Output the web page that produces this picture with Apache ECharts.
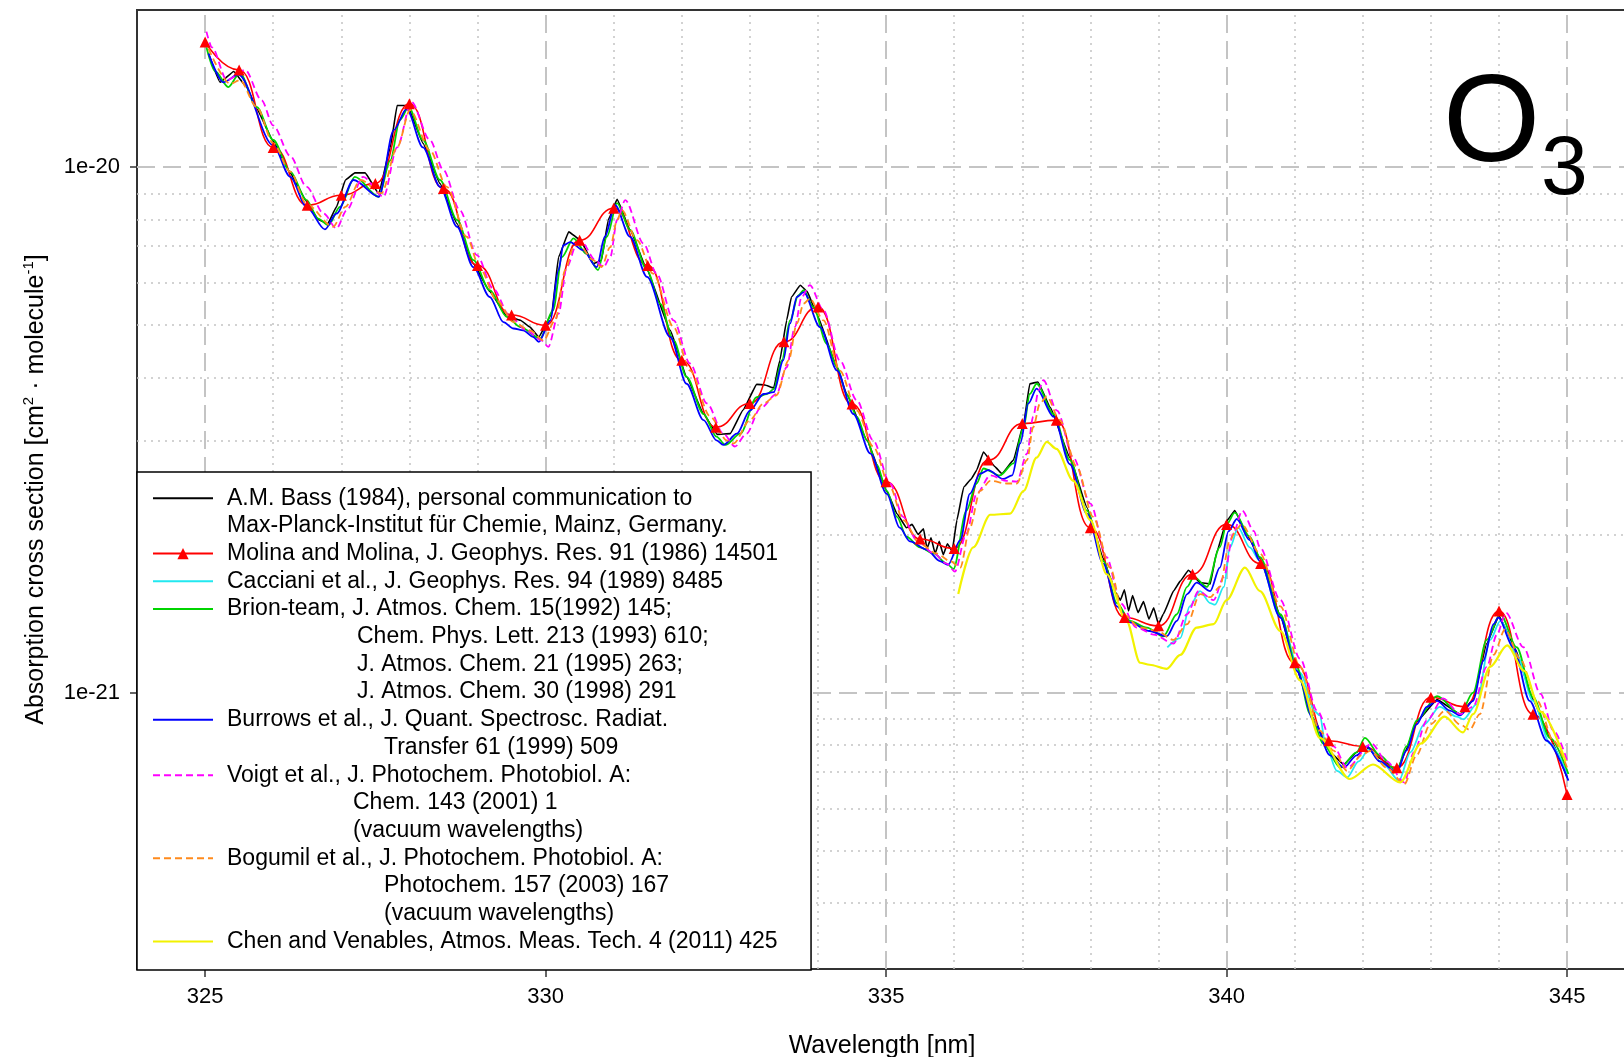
<!DOCTYPE html>
<html>
<head>
<meta charset="utf-8">
<title>O3 absorption cross section, 325-345 nm</title>
<script src="https://cdn.jsdelivr.net/npm/echarts@6/dist/echarts.min.js"></script>
<style>
  html, body { margin: 0; padding: 0; background: #fff; }
  #chart { width: 1624px; height: 1057px; }
</style>
</head>
<body>
<div id="chart"></div>
<script>
// [wavelength nm, cross section in 1e-21 cm2/molecule]
const bass = [[325.05,16.45],[325.22,14.5],[325.42,15.2],[325.61,14.2],[325.76,12.9],[326.0,11.2],[326.25,9.75],[326.49,8.6],[326.66,7.95],[326.8,7.8],[326.93,8.4],[327.06,9.45],[327.2,9.75],[327.35,9.75],[327.55,8.9],[327.72,10.9],[327.82,13.1],[327.97,13.1],[328.2,11.1],[328.45,9.3],[328.7,7.8],[328.94,6.55],[329.18,5.8],[329.43,5.2],[329.63,5.11],[329.77,4.96],[329.9,4.75],[330.09,5.26],[330.19,6.74],[330.34,7.53],[330.51,7.26],[330.7,6.55],[330.82,6.65],[330.92,7.93],[331.05,8.68],[331.24,7.6],[331.49,6.37],[331.83,4.89],[332.07,3.99],[332.32,3.39],[332.52,3.1],[332.71,3.11],[332.9,3.45],[333.1,3.86],[333.22,3.85],[333.35,3.8],[333.44,4.29],[333.54,5.11],[333.61,5.66],[333.74,5.96],[333.84,5.8],[333.98,5.26],[334.28,4.16],[334.42,3.7],[334.72,3.02],[335.01,2.42],[335.16,2.19],[335.3,2.06],[335.38,2.09],[335.47,2.0],[335.55,2.05],[335.6,1.88],[335.66,1.97],[335.72,1.84],[335.78,1.94],[335.84,1.83],[335.9,1.92],[335.97,1.86],[336.04,2.13],[336.14,2.46],[336.25,2.55],[336.33,2.65],[336.43,2.87],[336.6,2.69],[336.7,2.61],[336.87,2.77],[337.02,3.25],[337.11,3.87],[337.23,3.9],[337.41,3.49],[337.7,2.8],[337.95,2.25],[338.19,1.8],[338.29,1.66],[338.37,1.55],[338.44,1.5],[338.5,1.57],[338.56,1.43],[338.62,1.53],[338.7,1.42],[338.78,1.49],[338.86,1.38],[338.93,1.45],[339.0,1.35],[339.07,1.41],[339.22,1.56],[339.32,1.63],[339.44,1.71],[339.61,1.62],[339.76,1.61],[339.85,1.84],[340.0,2.12],[340.12,2.22],[340.3,2.0],[340.49,1.8],[340.79,1.4],[341.03,1.11],[341.28,0.89],[341.52,0.77],[341.72,0.73],[341.91,0.77],[342.04,0.79],[342.25,0.75],[342.5,0.71],[342.64,0.78],[342.79,0.88],[343.09,0.97],[343.43,0.91],[343.62,0.97],[343.82,1.24],[344.0,1.4],[344.24,1.21],[344.5,0.97],[344.75,0.82],[345.0,0.69]];

const molina = [[325.0,17.3],[325.5,15.3],[326.0,10.9],[326.5,8.46],[327.0,8.84],[327.5,9.31],[328.0,13.2],[328.5,9.1],[329.0,6.5],[329.5,5.23],[330.0,5.0],[330.5,7.26],[331.0,8.35],[331.5,6.5],[332.0,4.29],[332.5,3.2],[333.0,3.55],[333.5,4.65],[334.0,5.42],[334.5,3.54],[335.0,2.52],[335.5,1.96],[336.0,1.88],[336.5,2.77],[337.0,3.25],[337.5,3.3],[338.0,2.06],[338.5,1.39],[339.0,1.34],[339.5,1.68],[340.0,2.09],[340.5,1.76],[341.0,1.14],[341.5,0.81],[342.0,0.79],[342.5,0.72],[343.0,0.98],[343.5,0.94],[344.0,1.43],[344.5,0.91],[345.0,0.64]];

const cacciani = [[339.13,1.22],[339.32,1.27],[339.46,1.46],[339.61,1.56],[339.76,1.48],[339.83,1.47],[339.96,1.59],[340.05,1.89],[340.17,2.06],[340.34,1.89],[340.49,1.78],[340.79,1.39],[341.08,1.09],[341.3,0.92],[341.37,0.905],[341.45,0.8],[341.62,0.71],[341.77,0.69],[341.94,0.74],[342.09,0.78],[342.31,0.73],[342.53,0.68],[342.7,0.77],[342.9,0.87],[343.13,0.94],[343.38,0.9],[343.48,0.89],[343.67,0.95],[343.87,1.26],[344.02,1.37],[344.26,1.18],[344.5,0.965],[344.75,0.8],[345.0,0.7]];

const brion = [[325.02,16.9],[325.15,15.2],[325.34,14.2],[325.51,15.1],[325.76,13.0],[326.0,11.26],[326.25,9.8],[326.49,8.65],[326.66,7.98],[326.81,7.75],[326.98,8.4],[327.2,9.58],[327.55,8.78],[327.72,10.3],[327.86,12.3],[327.99,13.0],[328.2,11.26],[328.45,9.45],[328.7,7.93],[328.94,6.65],[329.18,5.83],[329.43,5.19],[329.63,4.96],[329.92,4.72],[330.11,5.34],[330.24,6.74],[330.41,7.32],[330.6,6.84],[330.77,6.37],[330.9,7.37],[331.05,8.54],[331.24,7.59],[331.49,6.37],[331.68,5.5],[331.88,4.68],[332.07,3.99],[332.32,3.39],[332.51,3.07],[332.64,2.96],[332.86,3.11],[333.1,3.65],[333.25,3.7],[333.35,3.78],[333.47,4.29],[333.59,5.11],[333.71,5.7],[333.79,5.83],[333.93,5.42],[334.13,4.61],[334.28,4.16],[334.42,3.7],[334.57,3.35],[334.72,3.02],[334.86,2.72],[335.01,2.42],[335.16,2.16],[335.3,1.98],[335.5,1.89],[335.7,1.84],[335.89,1.76],[335.99,1.72],[336.18,2.22],[336.33,2.5],[336.43,2.67],[336.67,2.59],[336.87,2.73],[337.02,3.2],[337.11,3.7],[337.21,3.87],[337.46,3.39],[337.7,2.77],[337.95,2.22],[338.19,1.78],[338.39,1.48],[338.58,1.37],[338.83,1.33],[339.07,1.28],[339.27,1.41],[339.42,1.59],[339.52,1.66],[339.71,1.59],[339.9,1.89],[340.0,2.09],[340.12,2.2],[340.34,1.98],[340.49,1.81],[340.79,1.41],[341.03,1.12],[341.23,0.91],[341.42,0.8],[341.67,0.72],[341.91,0.77],[342.03,0.82],[342.25,0.76],[342.5,0.71],[342.64,0.79],[342.79,0.885],[343.09,0.985],[343.43,0.91],[343.62,1.0],[343.82,1.26],[344.02,1.41],[344.26,1.22],[344.5,0.98],[344.75,0.82],[345.02,0.7]];

const burrows = [[325.05,16.45],[325.27,14.5],[325.49,15.0],[326.0,11.0],[326.25,9.58],[326.49,8.4],[326.76,7.61],[326.93,8.16],[327.18,9.45],[327.55,8.78],[327.77,11.76],[327.96,12.9],[328.2,10.9],[328.45,9.17],[328.7,7.7],[328.94,6.45],[329.18,5.66],[329.38,5.07],[329.53,4.93],[329.67,4.89],[329.82,4.75],[329.9,4.65],[330.07,5.11],[330.19,6.37],[330.26,7.1],[330.36,7.2],[330.55,6.95],[330.75,6.45],[330.87,7.37],[331.02,8.46],[331.24,7.37],[331.49,6.18],[331.83,4.75],[332.07,3.87],[332.32,3.3],[332.51,3.02],[332.61,2.96],[332.81,3.11],[333.0,3.44],[333.2,3.7],[333.35,3.73],[333.49,4.29],[333.59,5.04],[333.69,5.66],[333.79,5.78],[334.03,4.96],[334.28,4.1],[334.52,3.39],[334.77,2.85],[335.01,2.39],[335.2,2.06],[335.35,1.94],[335.6,1.87],[335.79,1.78],[335.91,1.75],[336.09,1.95],[336.23,2.39],[336.38,2.61],[336.5,2.65],[336.72,2.55],[336.85,2.59],[336.97,2.98],[337.09,3.55],[337.21,3.79],[337.46,3.35],[337.7,2.72],[337.95,2.19],[338.19,1.76],[338.39,1.46],[338.58,1.36],[338.87,1.31],[339.12,1.28],[339.27,1.37],[339.42,1.54],[339.56,1.62],[339.76,1.56],[339.9,1.73],[340.03,2.03],[340.15,2.14],[340.34,1.95],[340.49,1.78],[340.79,1.39],[341.03,1.1],[341.28,0.885],[341.52,0.76],[341.72,0.72],[341.91,0.76],[342.06,0.79],[342.25,0.74],[342.5,0.705],[342.64,0.776],[342.79,0.87],[342.94,0.94],[343.09,0.965],[343.28,0.924],[343.43,0.905],[343.62,0.965],[343.77,1.15],[343.92,1.35],[343.99,1.39],[344.21,1.22],[344.45,0.965],[344.7,0.81],[345.02,0.68]];

const voigt = [[325.02,18.1],[325.1,16.9],[325.32,14.64],[325.59,15.3],[325.83,13.4],[326.0,12.0],[326.25,10.5],[326.49,9.17],[326.74,8.16],[326.93,7.64],[327.08,8.28],[327.32,9.58],[327.62,8.78],[327.82,10.9],[328.03,13.3],[328.3,11.26],[328.5,9.87],[328.74,8.28],[328.99,6.8],[329.23,5.87],[329.48,5.19],[329.72,4.89],[329.94,4.68],[330.04,4.55],[330.19,5.26],[330.31,6.45],[330.46,7.15],[330.53,7.2],[330.73,6.65],[330.85,6.45],[330.95,6.74],[331.05,7.93],[331.17,8.65],[331.44,7.15],[331.63,6.27],[331.88,5.11],[332.12,4.23],[332.37,3.55],[332.61,3.11],[332.78,2.94],[332.95,3.11],[333.15,3.47],[333.39,3.7],[333.54,4.16],[333.66,4.96],[333.76,5.66],[333.88,5.96],[334.08,5.34],[334.32,4.29],[334.57,3.6],[334.81,3.02],[335.06,2.5],[335.25,2.16],[335.45,1.95],[335.7,1.84],[335.89,1.76],[336.01,1.7],[336.18,2.01],[336.33,2.39],[336.53,2.59],[336.77,2.53],[336.92,2.52],[337.07,2.85],[337.16,3.35],[337.24,3.76],[337.31,3.93],[337.51,3.44],[337.75,2.8],[338.0,2.29],[338.24,1.81],[338.44,1.48],[338.68,1.33],[338.93,1.29],[339.22,1.24],[339.42,1.41],[339.59,1.56],[339.81,1.5],[339.96,1.66],[340.1,2.01],[340.23,2.22],[340.4,2.03],[340.49,1.89],[340.79,1.5],[341.08,1.16],[341.33,0.924],[341.57,0.79],[341.77,0.72],[342.13,0.8],[342.35,0.74],[342.61,0.675],[342.75,0.77],[342.94,0.885],[343.18,0.975],[343.43,0.91],[343.62,0.94],[343.82,1.12],[343.97,1.29],[344.1,1.42],[344.36,1.22],[344.61,0.995],[344.8,0.847],[345.0,0.743]];

const bogumil = [[325.05,16.8],[325.37,14.4],[325.51,14.64],[325.76,13.0],[326.0,11.1],[326.25,9.8],[326.49,8.5],[326.88,7.7],[327.06,8.4],[327.28,9.45],[327.59,8.92],[327.82,10.9],[328.01,12.84],[328.3,10.77],[328.55,9.17],[328.84,7.37],[329.04,6.4],[329.28,5.58],[329.53,5.07],[329.77,4.89],[329.97,4.68],[330.14,5.11],[330.29,6.37],[330.41,7.04],[330.48,7.15],[330.7,6.65],[330.82,6.45],[330.95,7.04],[331.05,7.93],[331.12,8.28],[331.34,7.26],[331.58,6.27],[331.88,4.96],[332.12,4.1],[332.42,3.35],[332.66,3.02],[332.76,2.98],[333.0,3.3],[333.2,3.55],[333.39,3.68],[333.57,4.29],[333.69,5.04],[333.79,5.5],[333.88,5.62],[334.08,5.11],[334.32,4.1],[334.57,3.44],[334.81,2.94],[335.06,2.46],[335.25,2.13],[335.5,1.92],[335.74,1.84],[335.94,1.78],[336.09,1.73],[336.23,2.06],[336.38,2.42],[336.53,2.53],[336.77,2.5],[336.92,2.5],[337.07,2.77],[337.16,3.2],[337.26,3.55],[337.36,3.66],[337.55,3.3],[337.8,2.69],[338.04,2.16],[338.29,1.73],[338.48,1.41],[338.73,1.33],[338.98,1.31],[339.22,1.26],[339.42,1.35],[339.61,1.54],[339.76,1.52],[339.9,1.59],[340.05,1.95],[340.15,2.05],[340.22,2.09],[340.49,1.84],[340.79,1.46],[341.08,1.12],[341.37,0.847],[341.57,0.776],[341.77,0.71],[341.98,0.76],[342.11,0.775],[342.35,0.72],[342.61,0.67],[342.79,0.76],[342.99,0.87],[343.21,0.924],[343.43,0.87],[343.57,0.85],[343.72,0.91],[343.92,1.18],[344.09,1.32],[344.31,1.16],[344.56,0.965],[344.8,0.81],[345.0,0.72]];

const chen = [[336.06,1.54],[336.28,1.89],[336.53,2.18],[336.82,2.19],[337.02,2.42],[337.21,2.8],[337.36,3.0],[337.5,2.91],[337.75,2.53],[338.0,2.13],[338.24,1.68],[338.53,1.37],[338.73,1.14],[338.87,1.13],[339.12,1.11],[339.32,1.18],[339.56,1.33],[339.81,1.35],[340.0,1.5],[340.27,1.73],[340.49,1.56],[340.79,1.31],[341.08,1.055],[341.37,0.82],[341.81,0.685],[342.15,0.73],[342.55,0.675],[342.85,0.8],[343.2,0.9],[343.47,0.84],[343.62,0.91],[343.87,1.12],[344.12,1.23],[344.37,1.1],[344.61,0.92],[344.98,0.74]];

const xTickValues = [325, 330, 335, 340, 345];
const xMinorValues = [326, 327, 328, 329, 331, 332, 333, 334, 336, 337, 338, 339, 341, 342, 343, 344];
const yTickValues = [1e-21, 1e-20];
const yMinorValues = [4e-22, 5e-22, 6e-22, 7e-22, 8e-22, 9e-22, 2e-21, 3e-21, 4e-21, 5e-21, 6e-21, 7e-21, 8e-21, 9e-21];

// legend rows: id, text (multi-line references get one row per line)
const legendRows = [
  ['bass', 'A.M. Bass (1984), personal communication to'],
  ['bass_2', 'Max-Planck-Institut für Chemie, Mainz, Germany.'],
  ['molina', 'Molina and Molina, J. Geophys. Res. 91 (1986) 14501'],
  ['cacciani', 'Cacciani et al., J. Geophys. Res. 94 (1989) 8485'],
  ['brion', 'Brion-team, J. Atmos. Chem. 15(1992) 145;'],
  ['brion_2', 'Chem. Phys. Lett. 213 (1993) 610;'],
  ['brion_3', 'J. Atmos. Chem. 21 (1995) 263;'],
  ['brion_4', 'J. Atmos. Chem. 30 (1998) 291'],
  ['burrows', 'Burrows et al., J. Quant. Spectrosc. Radiat.'],
  ['burrows_2', 'Transfer 61 (1999) 509'],
  ['voigt', 'Voigt et al., J. Photochem. Photobiol. A:'],
  ['voigt_2', 'Chem. 143 (2001) 1'],
  ['voigt_3', '(vacuum wavelengths)'],
  ['bogumil', 'Bogumil et al., J. Photochem. Photobiol. A:'],
  ['bogumil_2', 'Photochem. 157 (2003) 167'],
  ['bogumil_3', '(vacuum wavelengths)'],
  ['chen', 'Chen and Venables, Atmos. Meas. Tech. 4 (2011) 425']
];

const FONT = "'Liberation Sans', Arial, sans-serif";
const UNIT = 1e-21;
const Y_MIN = 2.98e-22, Y_MAX = 1.99e-20;
const toData = arr => arr.map(([w, s]) => [w, s * UNIT]);

// indentation style of each continuation row
const rowStyle = {
  bass_2: 'c0', brion_2: 'c130', brion_3: 'c130', brion_4: 'c130',
  burrows_2: 'c157', voigt_2: 'c126', voigt_3: 'c126',
  bogumil_2: 'c157', bogumil_3: 'c157'
};
const labelOf = {};
legendRows.forEach(([id, text]) => { labelOf[id] = text; });

const dotted = { type: [2, 5], color: '#c4c4c4', width: 1.5 };
const dashed = { type: [18, 8], color: '#c4c4c4', width: 2 };
// vertical grid on the wavelength axis; horizontal grid on a hidden log10 axis
const xGridLines = [
  ...xMinorValues.map(v => ({ xAxis: v, lineStyle: dotted })),
  ...xTickValues.map(v => ({ xAxis: v, lineStyle: dashed }))
];
const yGridLines = [
  ...yMinorValues.map(v => ({ yAxis: Math.log10(v), lineStyle: dotted })),
  ...yTickValues.map(v => ({ yAxis: Math.log10(v), lineStyle: dashed }))
];
const gridMarkLine = data => ({
  silent: true, z: 1, animation: false, symbol: ['none', 'none'],
  label: { show: false }, emphasis: { disabled: true }, data: data
});

function curve(id, arr, color, extra) {
  return Object.assign({
    name: id,
    type: 'line',
    data: toData(arr),
    symbol: 'none',
    smooth: 0.3,
    smoothMonotone: 'x',
    lineStyle: { color: color, width: 1.8 },
    itemStyle: { color: color },
    emphasis: { disabled: true }
  }, extra || {});
}

const series = [
  {
    name: 'gridY', type: 'line', yAxisIndex: 1, data: [], symbol: 'none', silent: true,
    markLine: gridMarkLine(yGridLines)
  },
  curve('bass', bass, '#000000', { smooth: 0.1, lineStyle: { color: '#000', width: 1.6 } }),
  curve('molina', molina, '#ff0000', {
    smooth: 0.5, symbol: 'triangle', symbolSize: 11, showSymbol: true,
    lineStyle: { color: '#ff0000', width: 1.6 }
  }),
  curve('cacciani', cacciani, '#22e8f0'),
  curve('brion', brion, '#00d400', { markLine: gridMarkLine(xGridLines) }),
  curve('burrows', burrows, '#0000ff'),
  curve('voigt', voigt, '#ff00ff', { lineStyle: { color: '#ff00ff', width: 1.8, type: [7, 4] } }),
  curve('bogumil', bogumil, '#ff8a1c', { lineStyle: { color: '#ff8a1c', width: 1.8, type: [7, 4] } }),
  curve('chen', chen, '#f2f200', { lineStyle: { color: '#f2f200', width: 2.2 } })
];
// empty entries so that continuation lines get their own legend rows
legendRows.filter(r => rowStyle[r[0]]).forEach(([id]) => {
  series.push({
    name: id, type: 'line', data: [], symbol: 'none', silent: true,
    lineStyle: { color: 'rgba(0,0,0,0)' }, itemStyle: { color: 'rgba(0,0,0,0)' }
  });
});

const rowText = pad => ({
  fontFamily: FONT, fontSize: 23, color: '#000', padding: [0, 0, 0, pad]
});

const chart = echarts.init(document.getElementById('chart'), null, { renderer: 'canvas' });

const option = {
  animation: false,
  backgroundColor: '#fff',
  title: [
    { text: 'O', left: 1443, top: 64, padding: 0,
      textStyle: { fontSize: 125, fontWeight: 'normal', fontFamily: FONT, color: '#000' } },
    { text: '3', left: 1541, top: 129, padding: 0,
      textStyle: { fontSize: 84, fontWeight: 'normal', fontFamily: FONT, color: '#000' } }
  ],
  grid: {
    left: 137, right: -3, top: 10, bottom: 88,
    show: true, borderColor: '#333', borderWidth: 2, backgroundColor: '#fff',
    containLabel: false, outerBoundsMode: 'none'
  },
  legend: {
    orient: 'vertical',
    left: 137, top: 472,
    padding: [14.7, 33, 17, 15],
    itemGap: 4.7,
    itemWidth: 60, itemHeight: 14,
    backgroundColor: '#fff',
    borderColor: '#000', borderWidth: 1.5,
    selectedMode: false,
    itemStyle: { opacity: 0 },
    data: legendRows.map(([id]) => id === 'molina'
      ? { name: id, itemStyle: { opacity: 1 } }
      : { name: id }),
    formatter: id => '{' + (rowStyle[id] || 'first') + '|' + labelOf[id] + '}',
    textStyle: {
      fontFamily: FONT, fontSize: 23, color: '#000',
      rich: {
        first: rowText(9),
        c0: rowText(9),
        c126: rowText(135),
        c130: rowText(139),
        c157: rowText(166)
      }
    }
  },
  xAxis: {
    type: 'value',
    min: 324, max: 345.88,
    name: 'Wavelength [nm]',
    nameLocation: 'middle',
    nameGap: 65,
    nameTextStyle: { fontFamily: FONT, fontSize: 25, color: '#000' },
    axisLine: { show: true, lineStyle: { color: '#333', width: 2 } },
    axisTick: { show: true, length: 8, customValues: xTickValues, lineStyle: { color: '#333', width: 1.5 } },
    axisLabel: { customValues: xTickValues, margin: 17, fontFamily: FONT, fontSize: 22, color: '#000' },
    splitLine: { show: false }
  },
  yAxis: [
    {
      type: 'log',
      logBase: 10,
      min: Y_MIN, max: Y_MAX,
      name: 'Absorption cross section [cm{sup|2} · molecule{sup|-1}]',
      nameLocation: 'middle',
      nameGap: 86,
      nameTextStyle: {
        fontFamily: FONT, fontSize: 25, color: '#000', lineHeight: 30,
        rich: { sup: { fontFamily: FONT, fontSize: 15, color: '#000', verticalAlign: 'top', lineHeight: 15 } }
      },
      axisLine: { show: true, lineStyle: { color: '#333', width: 2 } },
      axisTick: { show: true, length: 7, lineStyle: { color: '#333', width: 1.5 } },
      axisLabel: {
        showMinLabel: false, showMaxLabel: false,
        margin: 17, fontFamily: FONT, fontSize: 22, color: '#000',
        formatter: v => {
          const e = Math.log10(v);
          return Math.abs(e - Math.round(e)) < 1e-6 ? v.toExponential(0) : '';
        }
      },
      splitLine: { show: false },
      minorSplitLine: { show: false }
    },
    {
      type: 'value',
      show: false,
      min: Math.log10(Y_MIN), max: Math.log10(Y_MAX),
      splitLine: { show: false }
    }
  ],
  series: series
};

chart.setOption(option);
</script>
</body>
</html>
